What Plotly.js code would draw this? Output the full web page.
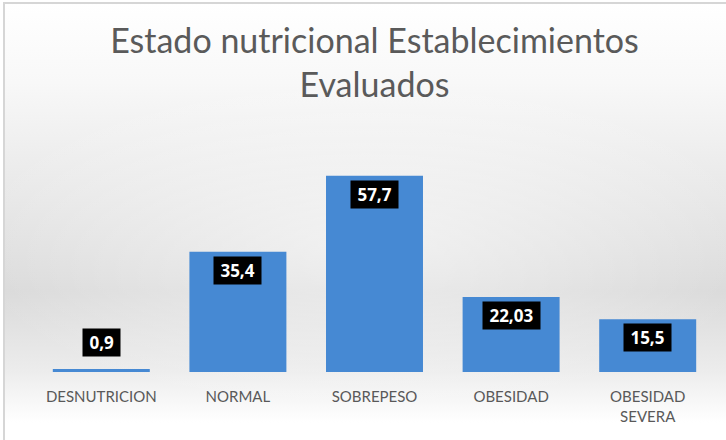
<!DOCTYPE html>
<html>
<head>
<meta charset="utf-8">
<script src="https://cdn.plot.ly/plotly-3.0.1.min.js"></script>
<style>
  html, body { margin: 0; padding: 0; background: #ffffff; overflow: hidden; }
  #chart {
    width: 723px; height: 438px; box-sizing: border-box;
    border-left: 2px solid #d6d6d6; border-top: 2px solid #d6d6d6;
    margin-left: 3px; margin-top: 2px;
    background:
      radial-gradient(ellipse 55% 40% at 50% 55%, rgba(255,255,255,0.55), rgba(255,255,255,0)),
      linear-gradient(to bottom, #ffffff 0%, #f8f8f8 18%, #e9e9e9 42%, #dadada 66%, #ececec 84%, #ffffff 96%);
  }
</style>
</head>
<body>
<div id="chart"></div>
<script>
const categories = ['DESNUTRICION', 'NORMAL', 'SOBREPESO', 'OBESIDAD', 'OBESIDAD SEVERA'];
const tickLabels = ['DESNUTRICION', 'NORMAL', 'SOBREPESO', 'OBESIDAD', 'OBESIDAD<br>SEVERA'];
const values = [0.9, 35.4, 57.7, 22.03, 15.5];
const valueLabels = ['0,9', '35,4', '57,7', '22,03', '15,5'];

const trace = {
  type: 'bar',
  x: categories,
  y: values,
  marker: { color: '#4689d3', line: { width: 0 } },
  hoverinfo: 'none'
};

const annotations = categories.map((c, i) => {
  const inside = values[i] > 5;
  return {
    x: c, y: values[i], xref: 'x', yref: 'y',
    text: '&nbsp;<b>' + valueLabels[i] + '</b>&nbsp;',
    showarrow: false,
    yanchor: inside ? 'top' : 'bottom',
    yshift: inside ? -4 : 12,
    bgcolor: '#000000',
    borderpad: 2,
    font: { family: 'Open Sans, sans-serif', size: 17, color: '#ffffff' }
  };
});

const layout = {
  width: 721, height: 436,
  paper_bgcolor: 'rgba(0,0,0,0)',
  plot_bgcolor: 'rgba(0,0,0,0)',
  margin: { l: 28, r: 10, t: 130, b: 68 },
  bargap: 0.29,
  showlegend: false,
  title: {
    text: 'Estado nutricional Establecimientos<br>Evaluados',
    font: { family: 'Lato, sans-serif', size: 34, color: '#5a5a5a' },
    x: 0.5, xref: 'paper', xanchor: 'center',
    y: 0.888, yref: 'container', yanchor: 'top'
  },
  xaxis: {
    type: 'category',
    tickvals: categories,
    ticktext: tickLabels,
    showline: false, showgrid: false, zeroline: false, ticks: '',
    ticklabelstandoff: 14,
    tickfont: { family: 'Lato, sans-serif', size: 15, color: '#595959' }
  },
  yaxis: {
    range: [0, 70],
    visible: false, showgrid: false, zeroline: false
  },
  annotations: annotations
};

Plotly.newPlot('chart', [trace], layout, { displayModeBar: false, staticPlot: true });
</script>
</body>
</html>
